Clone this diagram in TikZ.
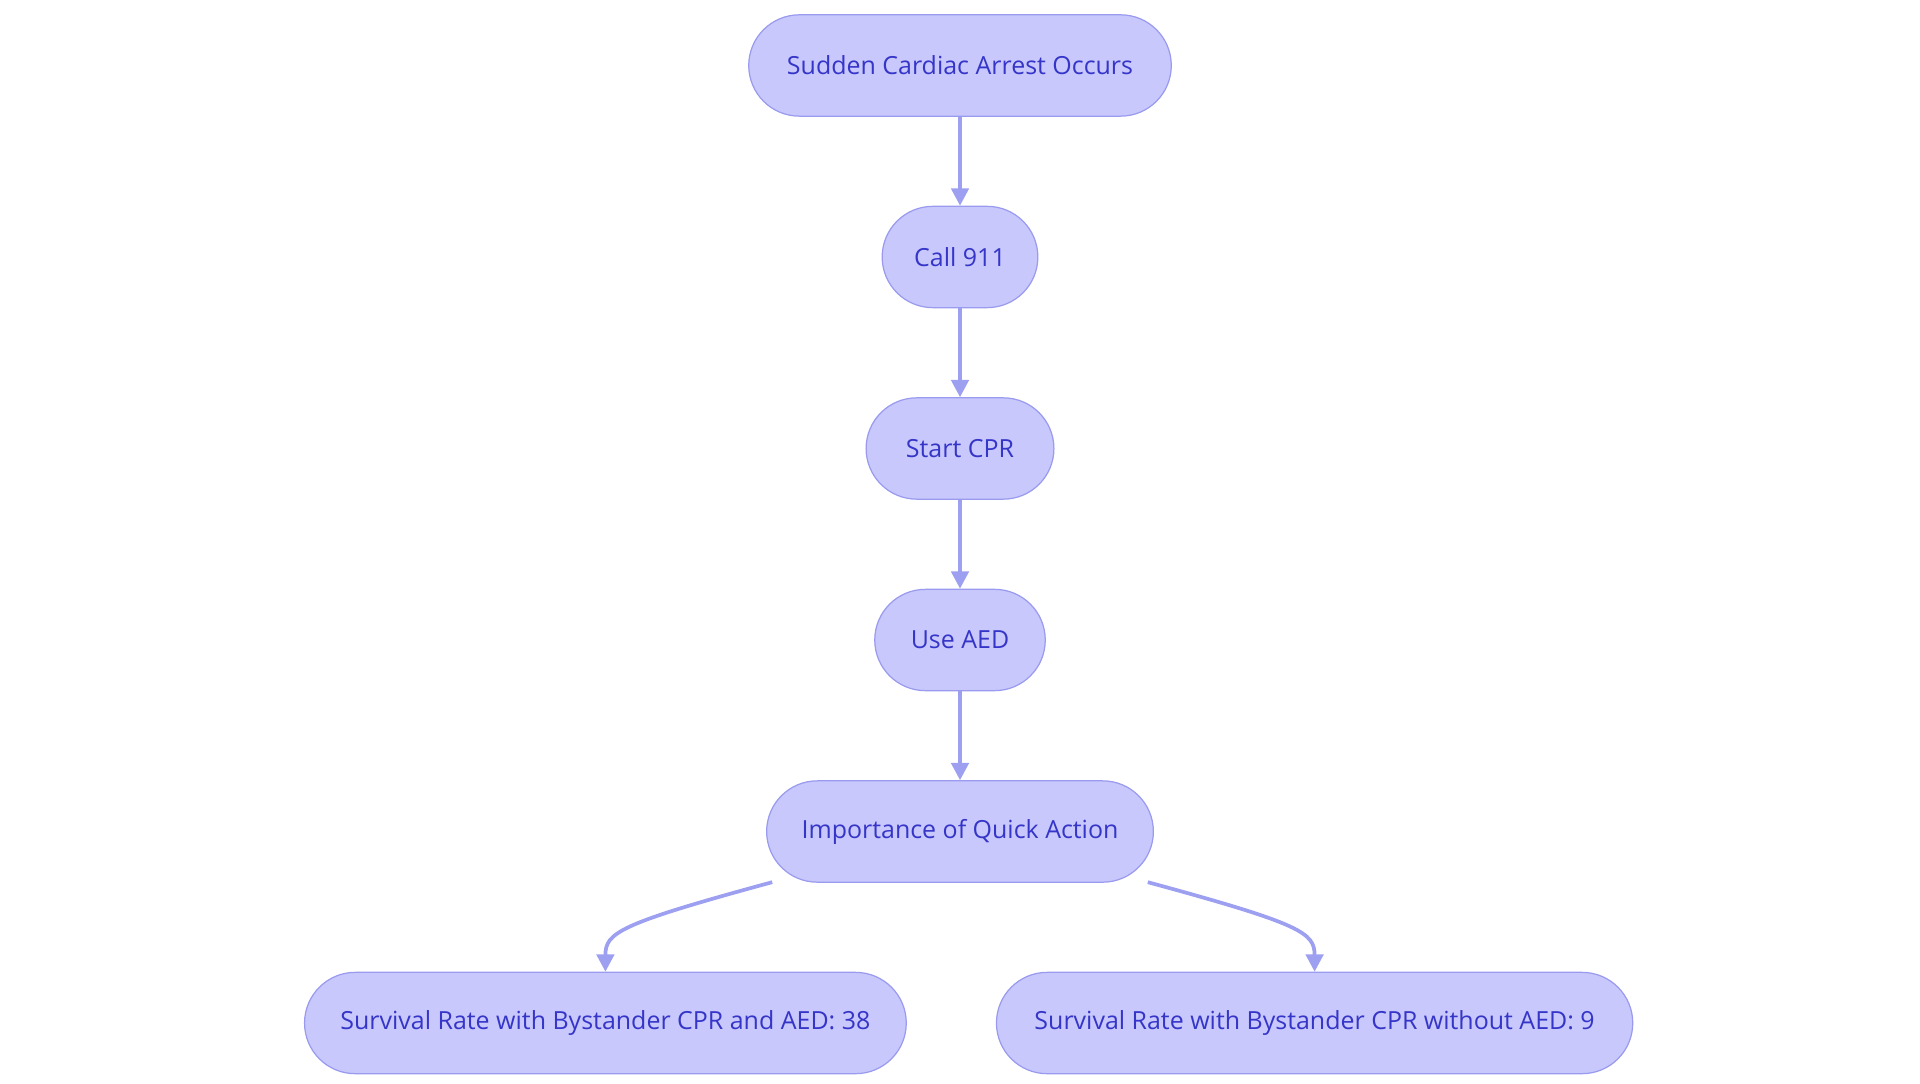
\documentclass[tikz,border=0pt]{standalone}
\usepackage{fontspec}
\setmainfont{Open Sans}
\usetikzlibrary{arrows.meta}
\definecolor{nfill}{HTML}{C8C8FD}
\definecolor{ndraw}{HTML}{9A9BEE}
\definecolor{ntext}{HTML}{3535C8}
\definecolor{edge}{HTML}{9DA0F0}
\begin{document}
\begin{tikzpicture}[x=1pt,y=-1pt,
  box/.style={draw=ndraw,fill=nfill,rounded corners=41pt,minimum height=82pt,text=ntext,font=\fontsize{20.2}{24}\selectfont,inner xsep=0pt,line width=1pt},
  arr/.style={draw=edge,line width=3pt,-{Triangle[length=14pt,width=14pt]}}]
\useasboundingbox (0,0) rectangle (1554,877);
\node[box,minimum width=342pt] (a) at (777,53) {Sudden Cardiac Arrest Occurs};
\node[box,minimum width=126pt] (b) at (777,208) {Call 911};
\node[box,minimum width=152pt] (c) at (777,363) {Start CPR};
\node[box,minimum width=138pt] (d) at (777,518) {Use AED};
\node[box,minimum width=313pt] (e) at (777,673) {Importance of Quick Action};
\node[box,minimum width=487pt] (f) at (490,828) {Survival Rate with Bystander CPR and AED: 38};
\node[box,minimum width=515pt] (g) at (1064,828) {Survival Rate with Bystander CPR without AED: 9};
\draw[arr] (a) -- (b);
\draw[arr] (b) -- (c);
\draw[arr] (c) -- (d);
\draw[arr] (d) -- (e);
\coordinate (e1) at (625,714);
\coordinate (e2) at (929,714);
\draw[arr] (e1) .. controls (500,748) and (490,755) .. (f.north);
\draw[arr] (e2) .. controls (1054,748) and (1064,755) .. (g.north);
\end{tikzpicture}
\end{document}
